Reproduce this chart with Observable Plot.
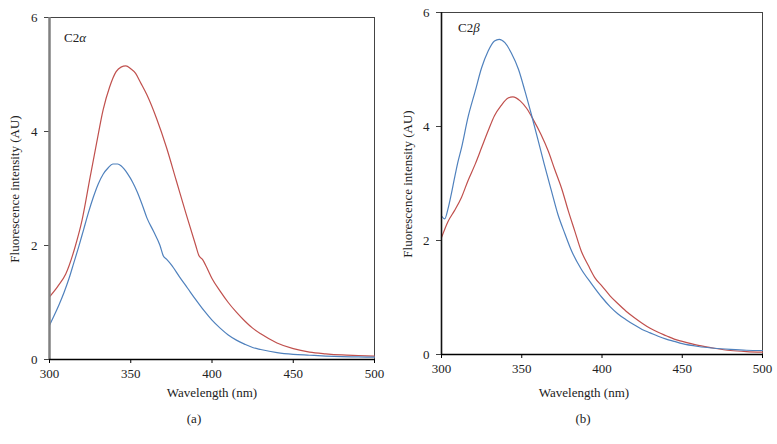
<!DOCTYPE html>
<html><head><meta charset="utf-8">
<script src="https://cdn.jsdelivr.net/npm/d3@7"></script>
<script src="https://cdn.jsdelivr.net/npm/@observablehq/plot@0.6"></script>
<style>
body{margin:0;background:#fff;font-family:"Liberation Serif","DejaVu Serif",serif;}
#wrap{position:relative;width:777px;height:444px;overflow:hidden;}
.panel{position:absolute;top:0;}
.lab{position:absolute;font-size:13px;line-height:1;color:#222;white-space:nowrap;}
.c{transform:translate(-50%,-50%);}
.r{transform:translate(-50%,-50%) rotate(-90deg);}
</style></head><body>
<div id="wrap"></div>
<script>
// ---- data ----
const xTicks = [300, 350, 400, 450, 500];
const yTicks = [0, 2, 4, 6];
const seriesColors = {red: "#c0504d", blue: "#4f81bd"};

// Panel (a) C2α
const aRedWl  = [300,305,310,316,320,325,329,333,337,341,344,347,350,353,356,360,366,372,378,384,390,392,394,397,400,405,410,415,420,425,430,440,450,460,470,480,490,500];
const aRedVal = [1.10,1.28,1.50,2.00,2.44,3.20,3.80,4.38,4.78,5.05,5.13,5.15,5.10,5.02,4.86,4.64,4.22,3.72,3.14,2.56,2.00,1.82,1.76,1.60,1.42,1.20,1.00,0.83,0.68,0.55,0.45,0.29,0.19,0.13,0.10,0.08,0.07,0.06];
const aBlueWl  = [300,303,306,309,312,315,318,321,324,327,330,333,336,339,342,344,346,348,351,354,357,360,364,368,370,372,375,380,385,390,395,400,405,410,415,420,425,430,440,450,460,470,480,490,500];
const aBlueVal = [0.60,0.78,0.97,1.18,1.42,1.70,1.98,2.28,2.58,2.85,3.08,3.25,3.36,3.43,3.43,3.40,3.34,3.26,3.12,2.94,2.72,2.48,2.25,2.00,1.82,1.76,1.66,1.45,1.25,1.05,0.86,0.69,0.55,0.43,0.34,0.27,0.21,0.175,0.12,0.09,0.075,0.06,0.05,0.045,0.04];

// Panel (b) C2β
const bBlueWl  = [300,302,304,306,308,310,312.5,316.5,321,325,329,333,336,339.5,343.5,348,352,356,360,364,368.5,372.5,377,381,387,393.5,400,405,410,415,420,425,430,435,440,445,450,460,470,480,490,500];
const bBlueVal = [2.43,2.38,2.55,2.80,3.08,3.35,3.63,4.16,4.62,5.03,5.32,5.50,5.53,5.47,5.29,5.00,4.62,4.21,3.78,3.34,2.87,2.46,2.11,1.82,1.50,1.24,1.00,0.84,0.71,0.61,0.52,0.44,0.38,0.32,0.27,0.23,0.19,0.14,0.11,0.09,0.075,0.07];
const bRedWl  = [300,304,308,312.5,316.5,321,325,329,333,337,341.5,344.5,349,353,357,362,366.5,370.5,375,379,383,387,391.5,395.5,400,405,410,415,420,425,430,435,440,445,450,460,470,480,490,500];
const bRedVal = [2.05,2.33,2.52,2.76,3.05,3.34,3.63,3.92,4.19,4.36,4.50,4.52,4.45,4.32,4.13,3.86,3.57,3.25,2.90,2.52,2.17,1.82,1.56,1.35,1.20,1.03,0.89,0.76,0.65,0.55,0.46,0.39,0.33,0.27,0.23,0.16,0.11,0.07,0.05,0.04];

const xLabel = "Wavelength (nm)";
const yLabel = "Fluorescence intensity (AU)";

function rows(wl, val) { return wl.map((w, i) => ({wl: w, v: val[i]})); }

function panel({left, width, mL, mR, mT, mB, yAxisStroke, yAxisWidth, series}) {
  const p = Plot.plot({
    width, height: 400,
    marginLeft: mL, marginRight: mR, marginTop: mT, marginBottom: mB,
    x: {domain: [xTicks[0], xTicks[xTicks.length - 1]], label: null},
    y: {domain: [yTicks[0], yTicks[yTicks.length - 1]], label: null},
    style: {fontFamily: '"Liberation Serif","DejaVu Serif",serif', fontSize: "13px", color: "#222", background: "transparent"},
    marks: [
      Plot.frame({stroke: "#444", strokeWidth: 1}),
      Plot.axisX({ticks: xTicks, tickSize: 4, tickPadding: 5, tickFormat: d => String(d), stroke: "#000"}),
      Plot.axisY({ticks: yTicks, tickSize: 5, tickPadding: 7, tickFormat: d => String(d), stroke: "#444"}),
      ...series.map(s => Plot.line(rows(s.wl, s.val), {x: "wl", y: "v", stroke: s.color, strokeWidth: 1.2, curve: "monotone-x"})),
      Plot.ruleX([xTicks[0]], {stroke: yAxisStroke, strokeWidth: yAxisWidth}),
      Plot.ruleY([yTicks[0]], {stroke: "#000", strokeWidth: 1.5})
    ]
  });
  p.classList.add("panel");
  p.style.left = left + "px";
  return p;
}

const wrap = document.getElementById("wrap");
wrap.appendChild(panel({left: 0, width: 388, mL: 49, mR: 14, mT: 17, mB: 41, yAxisStroke: "#808080", yAxisWidth: 2.5,
  series: [{wl: aRedWl, val: aRedVal, color: seriesColors.red}, {wl: aBlueWl, val: aBlueVal, color: seriesColors.blue}]}));
wrap.appendChild(panel({left: 388, width: 389, mL: 53, mR: 15, mT: 12, mB: 46, yAxisStroke: "#111", yAxisWidth: 1.6,
  series: [{wl: bRedWl, val: bRedVal, color: seriesColors.red}, {wl: bBlueWl, val: bBlueVal, color: seriesColors.blue}]}));

function lab(html, x, y, cls) {
  const d = document.createElement("div");
  d.className = "lab " + (cls || "");
  d.innerHTML = html;
  d.style.left = x + "px"; d.style.top = y + "px";
  wrap.appendChild(d);
}
lab(yLabel, 14, 189, "r");
lab(yLabel, 407, 184, "r");
lab(xLabel, 212, 392, "c");
lab(xLabel, 584, 392, "c");
lab("(a)", 194, 418, "c");
lab("(b)", 583, 418, "c");
lab("C2<i>α</i>", 64, 31);
lab("C2<i>β</i>", 458, 21);
</script>
</body></html>
